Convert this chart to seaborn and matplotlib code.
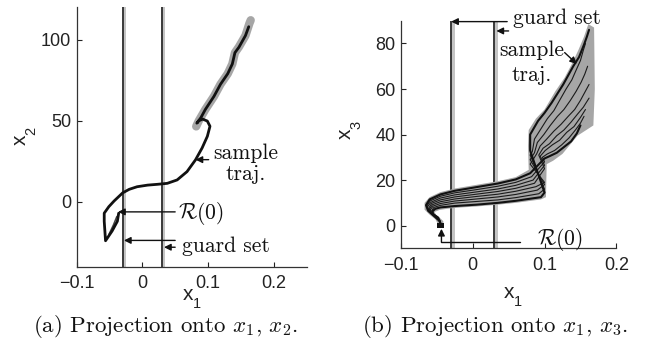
import numpy as np
import pandas as pd
import seaborn as sns
import matplotlib
matplotlib.use("Agg")
import matplotlib.pyplot as plt

# ---------------- data ----------------
# panel (a): projection onto x1, x2
traj_a_x = [-0.036, -0.038, -0.046, -0.056, -0.058, -0.058, -0.051, -0.043, -0.030, -0.020,
            -0.008, 0.008, 0.023, 0.038, 0.053, 0.068, 0.081, 0.091, 0.099, 0.103,
            0.099, 0.092, 0.086, 0.083, 0.089, 0.096, 0.109, 0.119, 0.130, 0.137,
            0.141, 0.147, 0.157, 0.162]
traj_a_y = [-7.0, -12.0, -18.0, -24.0, -12.0, -7.0, -3.0, 0.5, 5.5, 7.7,
            9.3, 10.3, 10.8, 11.4, 13.5, 18.6, 25.9, 33.2, 40.4, 46.6,
            49.8, 51.0, 50.0, 48.5, 51.8, 57.0, 65.0, 72.5, 79.0, 85.0,
            92.0, 95.3, 102.5, 108.0]
reach_a_x = [0.082, 0.086, 0.096, 0.109, 0.119, 0.130, 0.137, 0.141, 0.147, 0.157, 0.163, 0.165]
reach_a_y = [46.5, 50.0, 57.0, 65.0, 72.5, 79.0, 85.0, 92.0, 95.5, 102.5, 110.0, 112.0]
wedge_a_x = [-0.052, -0.045, -0.040, -0.037, -0.043, -0.050]
wedge_a_y = [-20.0, -14.0, -9.0, -8.0, -15.0, -21.0]

guard_x = [-0.03, 0.03]
guard_band_w = 0.005

# panel (b): projection onto x1, x3 -- sample trajectories (index 0 = upper edge of the lower band)
traj_b = {
    0: ([-0.044, -0.046, -0.053, -0.062, -0.065, -0.060, -0.045, -0.025, 0.005, 0.035, 0.060, 0.080,
         0.100, 0.107, 0.117, 0.127, 0.137, 0.145, 0.150],
        [0.0, 2.0, 4.0, 6.5, 9.0, 11.5, 13.7, 15.3, 16.9, 18.5, 20.3, 23.0,
         29.5, 30.5, 32.0, 34.5, 37.0, 40.5, 44.0]),
    1: ([-0.044, -0.046, -0.052, -0.061, -0.064, -0.059, -0.045, -0.025, 0.005, 0.035, 0.060, 0.082,
         0.100, 0.097, 0.104, 0.114, 0.124, 0.134, 0.143, 0.150, 0.155],
        [0.0, 2.0, 3.9, 6.3, 8.6, 10.9, 12.9, 14.4, 15.8, 17.3, 19.0, 21.5,
         28.0, 30.0, 31.5, 33.0, 35.5, 38.5, 42.0, 45.0, 48.0]),
    2: ([-0.044, -0.046, -0.052, -0.060, -0.063, -0.058, -0.045, -0.025, 0.005, 0.035, 0.060, 0.084,
         0.100, 0.094, 0.101, 0.111, 0.121, 0.131, 0.141, 0.150, 0.157],
        [0.0, 2.0, 3.8, 6.1, 8.2, 10.3, 12.1, 13.5, 14.8, 16.1, 17.7, 20.0,
         26.5, 30.5, 33.0, 35.5, 37.5, 41.0, 43.5, 47.5, 51.0]),
    3: ([-0.044, -0.046, -0.051, -0.059, -0.061, -0.057, -0.045, -0.025, 0.005, 0.035, 0.060, 0.086,
         0.100, 0.092, 0.098, 0.107, 0.117, 0.127, 0.137, 0.146, 0.154, 0.162],
        [0.0, 2.0, 3.8, 5.9, 7.8, 9.8, 11.3, 12.6, 13.8, 15.0, 16.4, 18.6,
         25.0, 31.0, 34.0, 36.0, 39.5, 42.0, 45.5, 49.0, 52.0, 56.0]),
    4: ([-0.044, -0.046, -0.050, -0.058, -0.060, -0.056, -0.045, -0.025, 0.005, 0.035, 0.060, 0.088,
         0.100, 0.080, 0.089, 0.094, 0.103, 0.113, 0.123, 0.133, 0.142, 0.150, 0.156, 0.162],
        [0.0, 2.0, 3.7, 5.7, 7.4, 9.2, 10.5, 11.7, 12.8, 13.8, 15.1, 17.1,
         19.0, 27.0, 31.5, 35.0, 38.0, 41.5, 44.5, 48.0, 51.0, 55.0, 58.5, 62.0]),
    5: ([-0.044, -0.046, -0.050, -0.057, -0.059, -0.055, -0.045, -0.025, 0.005, 0.035, 0.060, 0.090,
         0.100, 0.080, 0.086, 0.090, 0.099, 0.108, 0.118, 0.127, 0.136, 0.144, 0.151, 0.156, 0.160],
        [0.0, 2.0, 3.6, 5.5, 7.0, 8.6, 9.7, 10.8, 11.7, 12.6, 13.7, 15.6,
         18.0, 29.0, 32.0, 36.5, 40.0, 44.0, 48.0, 51.0, 55.0, 59.0, 63.0, 66.5, 70.0]),
    6: ([-0.044, -0.046, -0.049, -0.056, -0.057, -0.054, -0.045, -0.025, 0.005, 0.035, 0.060, 0.092,
         0.100, 0.080, 0.083, 0.086, 0.095, 0.104, 0.113, 0.121, 0.130, 0.138, 0.145, 0.150, 0.154, 0.157],
        [0.0, 2.0, 3.6, 5.3, 6.6, 8.0, 8.9, 9.9, 10.6, 11.3, 12.3, 14.0,
         16.0, 31.0, 32.5, 38.0, 42.5, 47.0, 50.5, 55.0, 60.0, 64.0, 69.0, 72.5, 77.0, 80.0]),
    7: ([-0.044, -0.046, -0.048, -0.055, -0.056, -0.052, -0.045, -0.025, 0.005, 0.035, 0.060, 0.095,
         0.100, 0.080, 0.080, 0.091, 0.100, 0.110, 0.118, 0.126, 0.133, 0.140, 0.148, 0.155, 0.159, 0.162],
        [0.0, 2.0, 3.5, 5.1, 6.3, 7.4, 8.0, 8.6, 9.2, 10.0, 10.9, 12.5,
         14.5, 33.0, 40.0, 46.0, 49.5, 54.0, 58.0, 62.0, 66.0, 70.0, 74.0, 79.5, 83.0, 86.0]),
}
reach_b_x = [-0.040, -0.041, -0.045, -0.051, -0.053, -0.046, -0.033, -0.015, 0.005, 0.035, 0.060,
             0.095, 0.102, 0.103, 0.112, 0.125, 0.146, 0.168, 0.170, 0.169, 0.161, 0.155, 0.147,
             0.138, 0.128, 0.115, 0.100, 0.088, 0.078, 0.077, 0.078, 0.060, 0.035, 0.005, -0.025,
             -0.045, -0.060, -0.067, -0.067, -0.060, -0.052, -0.048, -0.047]
reach_b_y = [-1.0, 2.0, 3.2, 4.7, 6.0, 6.9, 7.5, 8.0, 8.4, 9.2, 10.0,
             11.5, 12.5, 27.0, 28.5, 31.5, 39.5, 44.0, 60.0, 87.0, 88.5, 83.0, 77.0,
             71.0, 65.0, 59.0, 51.0, 47.0, 42.0, 35.0, 24.5, 21.3, 19.5, 17.9, 16.3,
             14.7, 12.5, 10.0, 7.0, 4.8, 2.8, 0.5, -1.0]
init_b_x = [-0.050, -0.040, -0.040, -0.050]
init_b_y = [-1.0, -1.0, 1.2, 1.2]

# ---------------- style ----------------
sns.set_theme(style="ticks")
plt.rcParams["font.family"] = ["Liberation Sans", "DejaVu Sans"]

fig = plt.figure(figsize=(6.55, 3.45), dpi=100)
axL = fig.add_axes([0.117, 0.227, 0.351, 0.752])
axR = fig.add_axes([0.612, 0.280, 0.329, 0.660])

dark = "#3a3a3a"
band = "#c4c4c4"
reach_gray = "#a6a6a6"
ann_font = dict(family="cmr10", math_fontfamily="cm", fontsize=15.5, color="#111111")
arrow = dict(arrowstyle="-|>", color="#111111", lw=1.0, mutation_scale=10, shrinkA=0, shrinkB=0)

for ax in (axL, axR):
    sns.despine(ax=ax)
    for s in ("left", "bottom"):
        ax.spines[s].set_color("#333333")
        ax.spines[s].set_linewidth(0.9)
    ax.tick_params(direction="in", length=3.5, width=0.8, labelsize=13, colors="#222222")
    ax.tick_params(axis="x", pad=6)
    ax.tick_params(axis="y", pad=4)
    ax.set_facecolor("white")

# ---- panel (a) ----
axL.set_xlim(-0.1, 0.25)
axL.set_ylim(-40, 120)
axL.set_xticks([-0.1, 0, 0.1, 0.2])
axL.set_xticklabels(["\u22120.1", "0", "0.1", "0.2"])
axL.set_yticks([0, 50, 100])
for g in guard_x:
    axL.axvspan(g, g + guard_band_w, color=band, lw=0, zorder=1)
    axL.axvline(g, color=dark, lw=1.4, zorder=2)
dfa_r = pd.DataFrame({"x": reach_a_x, "y": reach_a_y})
sns.lineplot(data=dfa_r, x="x", y="y", sort=False, estimator=None, ax=axL,
             color=reach_gray, lw=6, solid_capstyle="round", zorder=3)
axL.fill(wedge_a_x, wedge_a_y, color="#444444", lw=0, zorder=4)
dfa = pd.DataFrame({"x": traj_a_x, "y": traj_a_y})
sns.lineplot(data=dfa, x="x", y="y", sort=False, estimator=None, ax=axL,
             color="#111111", lw=2.0, zorder=5)
axL.set_xlabel("")
axL.set_ylabel("")

axL.annotate("", xy=(0.081, 26), xytext=(0.101, 26), arrowprops=arrow)
axL.text(0.158, 30, "sample", ha="center", va="center", **ann_font)
axL.text(0.158, 17.0, "traj.", ha="center", va="center", **ann_font)
axL.annotate("", xy=(-0.037, -6.2), xytext=(0.050, -6.2), arrowprops=arrow)
axL.text(0.054, -7.4, r"$\mathcal{R}(0)$", ha="left", va="center", **ann_font)
axL.annotate("", xy=(-0.028, -23.8), xytext=(0.050, -23.8), arrowprops=arrow)
axL.annotate("", xy=(0.033, -28.0), xytext=(0.050, -28.0), arrowprops=arrow)
axL.text(0.060, -27.5, "guard set", ha="left", va="center", **ann_font)

# ---- panel (b) ----
axR.set_xlim(-0.1, 0.2)
axR.set_ylim(-10, 90)
axR.set_xticks([-0.1, 0, 0.1, 0.2])
axR.set_xticklabels(["\u22120.1", "0", "0.1", "0.2"])
axR.set_yticks([0, 20, 40, 60, 80])
for g in guard_x:
    axR.axvspan(g, g + guard_band_w, color=band, lw=0, zorder=1)
    axR.axvline(g, color=dark, lw=1.4, zorder=2)
axR.fill(reach_b_x, reach_b_y, color=reach_gray, lw=0, zorder=3)
rows = []
for k, (xs, ys) in traj_b.items():
    for x, y in zip(xs, ys):
        rows.append({"x": x, "y": y, "traj": k})
dfb = pd.DataFrame(rows)
thin = dfb[dfb["traj"].isin([1, 2, 3, 4, 5, 6])]
thick = dfb[dfb["traj"].isin([0, 7])]
sns.lineplot(data=thin, x="x", y="y", units="traj", sort=False, estimator=None, ax=axR,
             color="#1a1a1a", lw=0.8, zorder=4)
sns.lineplot(data=thick, x="x", y="y", units="traj", sort=False, estimator=None, ax=axR,
             color="#111111", lw=1.5, zorder=5)
axR.fill(init_b_x, init_b_y, color="#111111", lw=0, zorder=6)
axR.set_xlabel("")
axR.set_ylabel("")

# guard set arrows (top)
axR.annotate("", xy=(-0.030, 89.6), xytext=(0.048, 89.6), arrowprops=arrow, annotation_clip=False)
axR.annotate("", xy=(0.033, 85.5), xytext=(0.050, 85.5), arrowprops=arrow, annotation_clip=False)
axR.text(0.056, 91.0, "guard set", ha="left", va="center", clip_on=False, **ann_font)
# sample traj arrow
axR.annotate("", xy=(0.145, 71.0), xytext=(0.128, 76.0), arrowprops=arrow)
axR.text(0.082, 77.0, "sample", ha="center", va="center", **ann_font)
axR.text(0.082, 66.0, "traj.", ha="center", va="center", **ann_font)
# R(0) arrow
axR.plot([0.066, -0.0435], [-7.2, -7.2], color="#111111", lw=1.0, zorder=6, clip_on=False)
axR.annotate("", xy=(-0.0435, -1.4), xytext=(-0.0435, -7.2), arrowprops=arrow, annotation_clip=False)
axR.text(0.090, -6.0, r"$\mathcal{R}(0)$", ha="left", va="center", **ann_font)

# ---- axis labels (MATLAB style x with subscript) ----
def sub_label(x, y, sub, rot=0):
    if rot == 0:
        fig.text(x / 655, 1 - y / 345, "x", fontsize=15, ha="center", va="center", color="#222222")
        fig.text((x + 9) / 655, 1 - (y + 9) / 345, sub, fontsize=10.5, ha="center", va="center",
                 color="#222222")
    else:
        fig.text(x / 655, 1 - y / 345, "x", fontsize=15, ha="center", va="center", rotation=90,
                 color="#222222")
        fig.text((x + 11) / 655, 1 - (y - 9) / 345, sub, fontsize=10.5, ha="center", va="center",
                 rotation=90, color="#222222")

sub_label(188, 295, "1")
sub_label(20, 140, "2", rot=90)
sub_label(509, 293, "1")
sub_label(345, 134, "3", rot=90)

# ---- captions ----
cap_font = dict(family="cmr10", math_fontfamily="cm", fontsize=16.5, ha="center", va="center",
                color="#111111")
fig.text(165 / 655, 1 - 327 / 345, r"(a) Projection onto $x_1$, $x_2$.", **cap_font)
fig.text(495 / 655, 1 - 327 / 345, r"(b) Projection onto $x_1$, $x_3$.", **cap_font)

fig.savefig("out.png", dpi=100, facecolor="white")
